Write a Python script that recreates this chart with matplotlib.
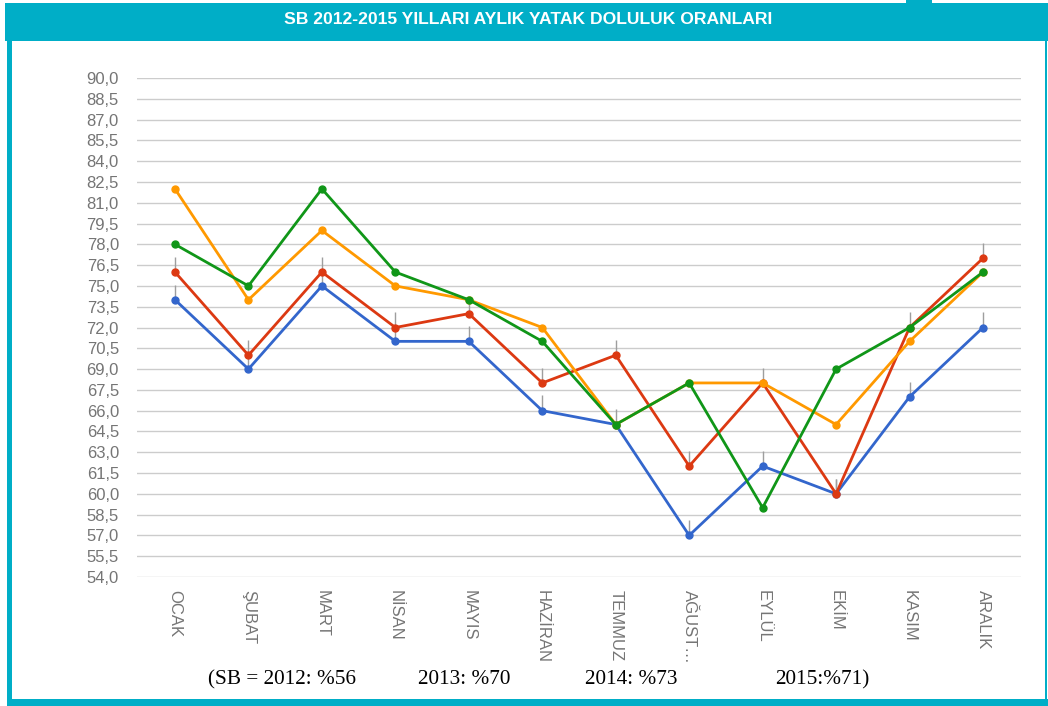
import numpy as np
import matplotlib
matplotlib.use("Agg")
import matplotlib.pyplot as plt
from matplotlib.patches import Rectangle
from matplotlib.transforms import Bbox

# Data
months = ["OCAK", "ŞUBAT", "MART", "NİSAN", "MAYIS", "HAZİRAN",
          "TEMMUZ", "AĞUST…", "EYLÜL", "EKİM", "KASIM", "ARALIK"]
y2012 = [74, 69, 75, 71, 71, 66, 65, 57, 62, 60, 67, 72]   # blue
y2013 = [76, 70, 76, 72, 73, 68, 70, 62, 68, 60, 72, 77]   # red
y2015 = [82, 74, 79, 75, 74, 72, 65, 68, 68, 65, 71, 76]   # orange
y2014 = [78, 75, 82, 76, 74, 71, 65, 68, 59, 69, 72, 76]   # green
yticks = np.arange(54.0, 90.1, 1.5)
note_parts = ["(SB = 2012: %56", "2013: %70", "2014: %73", "2015:%71)"]
note_x = [208, 418, 585, 775]

W, H = 1048, 706
TEAL = "#00AEC7"

plt.rcParams['font.family'] = ['Liberation Sans', 'DejaVu Sans']

fig = plt.figure(figsize=(W / 100, H / 100), dpi=100)
fig.patch.set_facecolor("white")


def frect(x0, y0, x1, y1, color):
    # rectangle given in pixel coords from top-left
    r = Rectangle((x0 / W, 1 - y1 / H), (x1 - x0) / W, (y1 - y0) / H,
                  transform=fig.transFigure, color=color, lw=0, zorder=0)
    fig.add_artist(r)


# frame
frect(5, 3, W, 41, TEAL)
frect(906, 0, 932, 3, TEAL)
frect(7, 41, 12, H, TEAL)
frect(7, 699, W, H, TEAL)
frect(1045, 41, 1047, H, TEAL)

fig.text(528 / W, 1 - 20 / H, "SB 2012-2015 YILLARI AYLIK YATAK DOLULUK ORANLARI",
         color="white", fontsize=12.6, fontweight="bold", ha="center", va="center")

ax = fig.add_axes([137 / W, 1 - 577 / H, (1021 - 137) / W, (577 - 78) / H])
x = np.arange(len(months))

# annotation stems above blue and red points
for ys in (y2012, y2013):
    ax.vlines(x, ys, np.array(ys) + 1.1, color="#9e9e9e", lw=1, zorder=2)

series = [(y2012, "#3366cc"), (y2013, "#dc3912"), (y2015, "#ff9900"), (y2014, "#109618")]
for i, (ys, c) in enumerate(series):
    ax.plot(x, ys, color=c, lw=2, marker="o", markersize=5, zorder=3 + i)

ax.set_xlim(-0.517, 11.517)
ax.set_ylim(54, 90)
ax.set_yticks(yticks)
ax.set_yticklabels([f"{v:.1f}".replace(".", ",") for v in yticks])
ax.set_xticks(x)
ax.set_xticklabels(months, rotation=-90, va="top", ha="center")
ax.grid(axis="y", color="#cccccc", lw=1)
ax.set_axisbelow(True)
for s in ax.spines.values():
    s.set_visible(False)
ax.tick_params(axis="both", length=0, colors="#757575", labelsize=12)
ax.tick_params(axis="y", pad=13)
ax.tick_params(axis="x", pad=9)

clip = Bbox([[0, H - 664], [W, H]])
for lbl in ax.get_xticklabels():
    lbl.set_clip_box(clip)
    lbl.set_clip_on(True)

for t, px in zip(note_parts, note_x):
    fig.text(px / W, 1 - 680 / H, t, family=["Liberation Serif", "DejaVu Serif"],
             fontsize=15.3, ha="left", va="center", color="black")

fig.savefig("out.png", dpi=100)
